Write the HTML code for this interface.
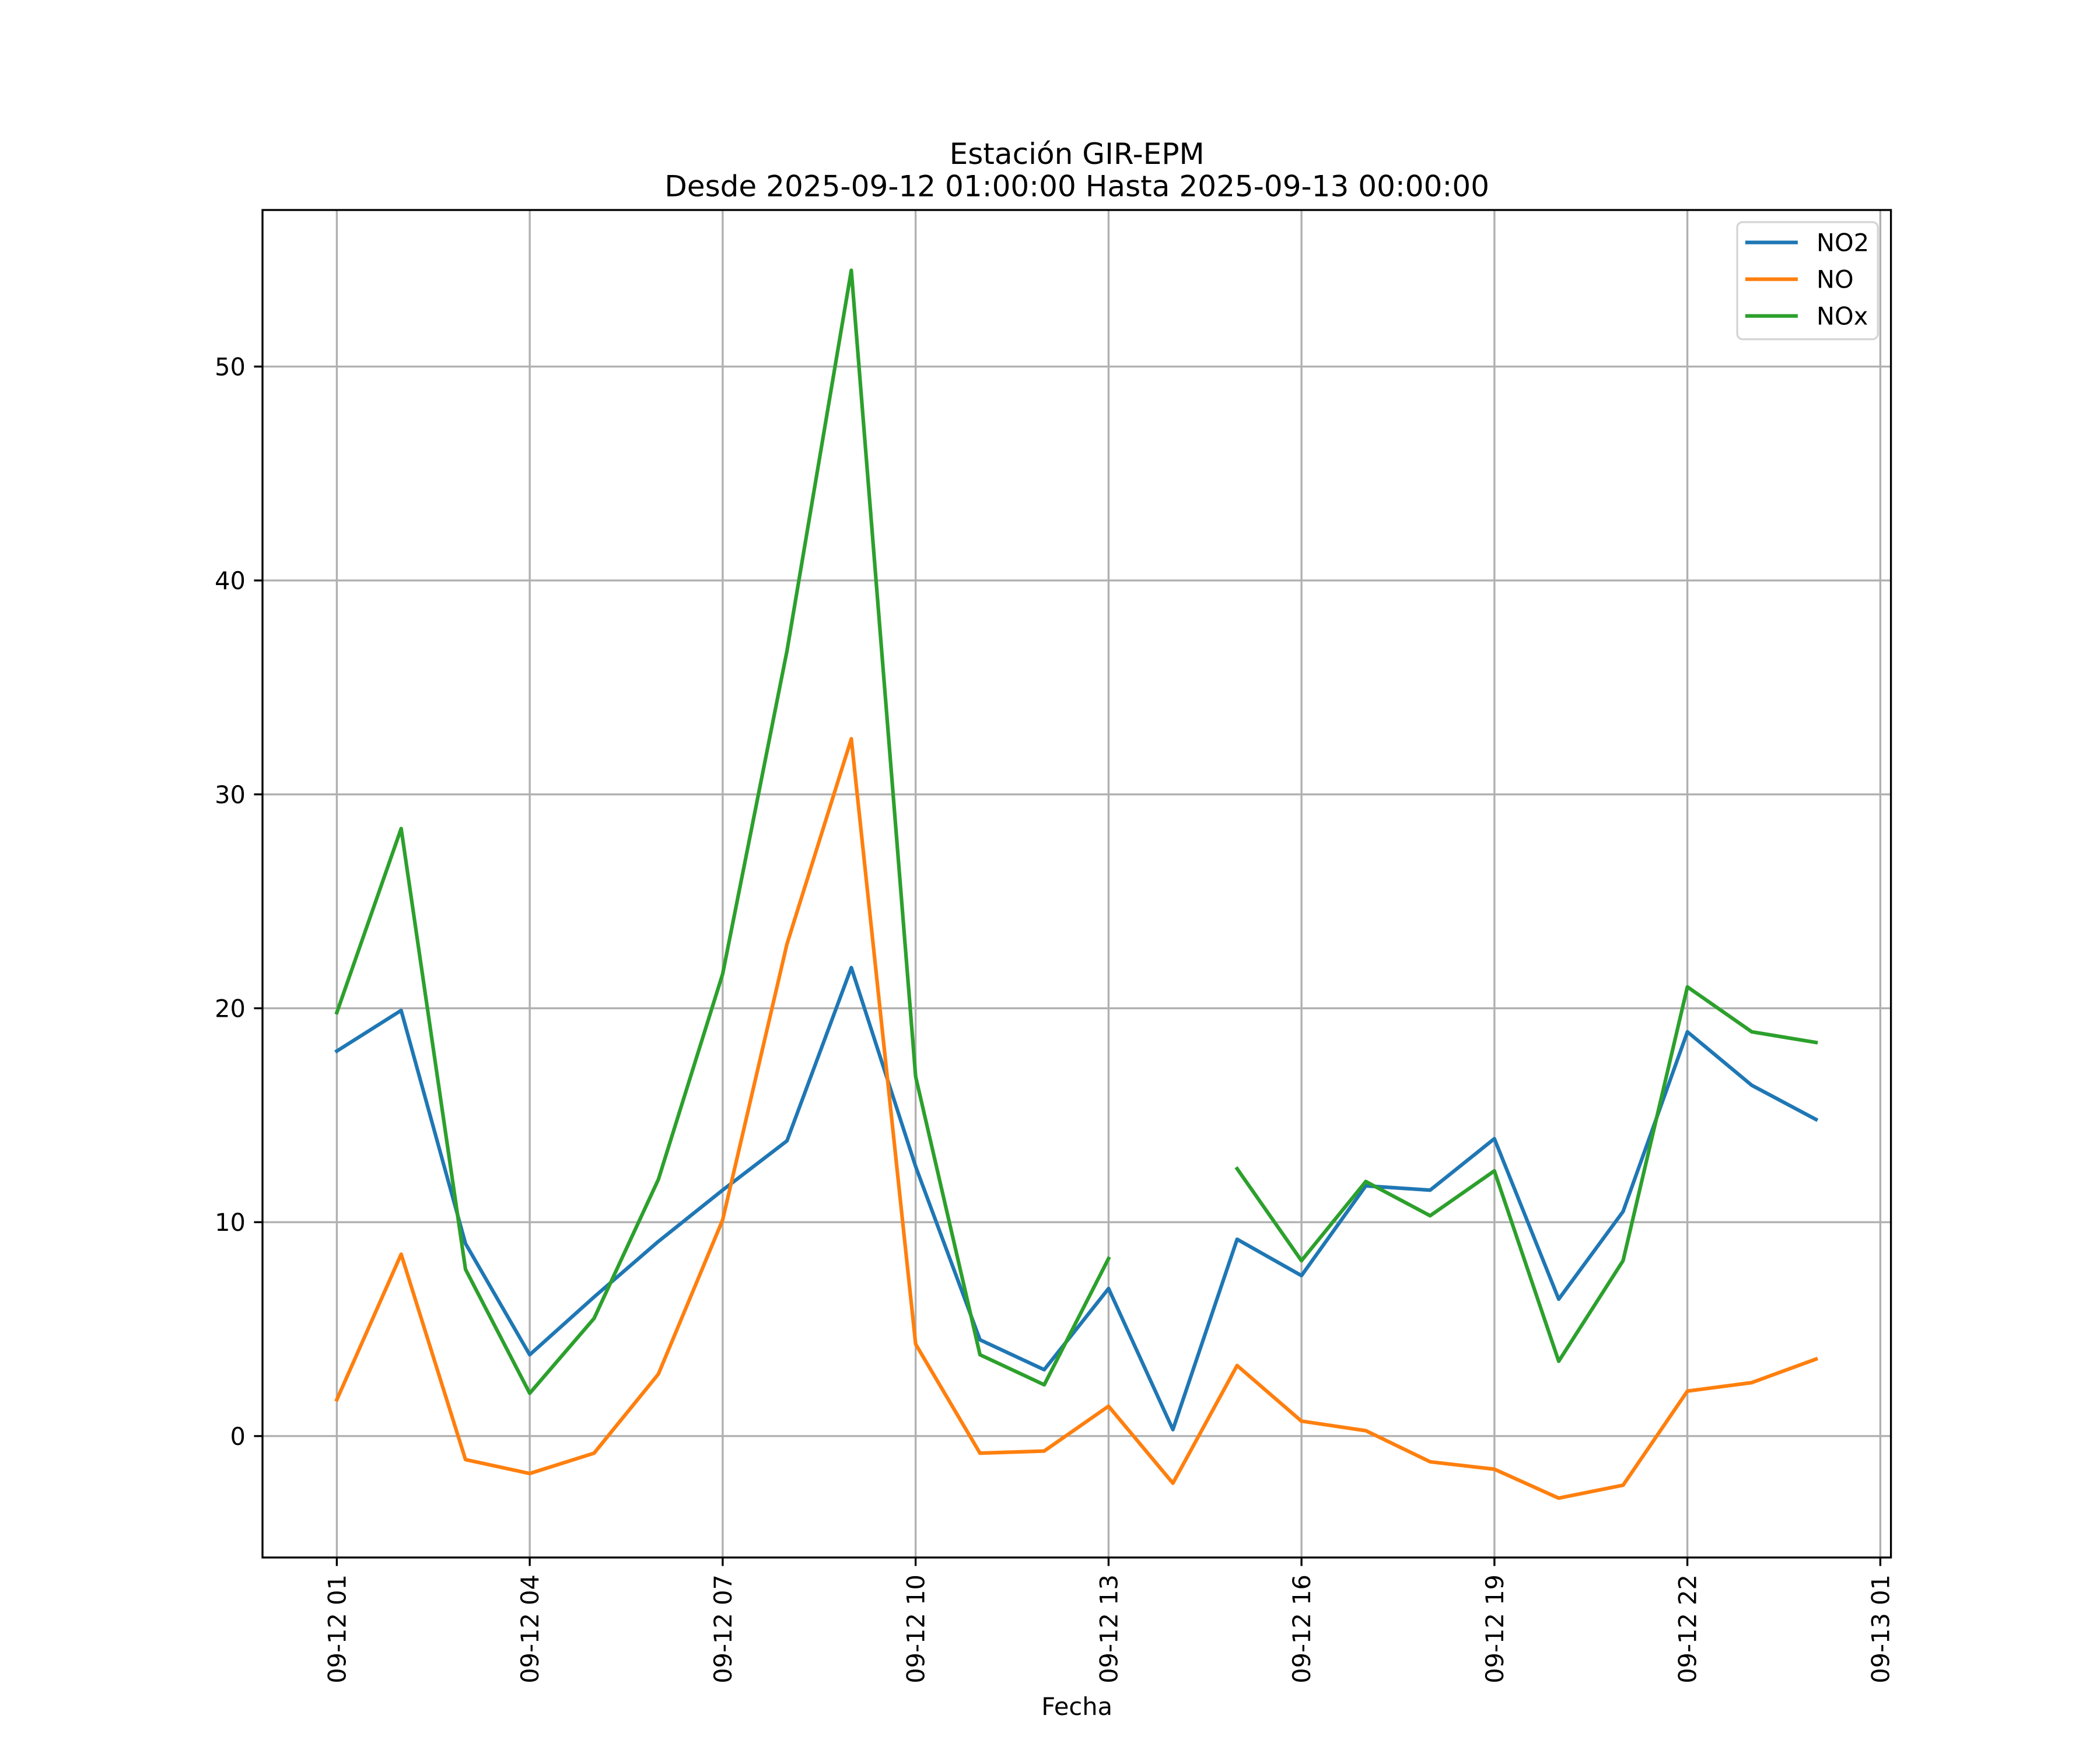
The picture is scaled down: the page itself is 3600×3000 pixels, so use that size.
<!DOCTYPE html>
<html><head><meta charset="utf-8">
<style>
html,body{margin:0;padding:0;background:#fff;}
svg{display:block;font-family:"DejaVu Sans","Liberation Sans",sans-serif;}
</style></head>
<body>
<svg id="chart" width="3600" height="3000" viewBox="0 0 1560 1300" xmlns="http://www.w3.org/2000/svg">
<rect x="0" y="0" width="1560" height="1300" fill="#fff"/>
<g id="grid"></g>
<g id="series"></g>
<rect x="195" y="156" width="1209.7" height="1001" fill="none" stroke="#000" stroke-width="1.45"/>
<g id="ticks"></g>
<text x="800" y="121.8" font-size="21.7" text-anchor="middle">Estación GIR-EPM</text>
<text x="800" y="145.9" font-size="21.7" text-anchor="middle">Desde 2025-09-12 01:00:00 Hasta 2025-09-13 00:00:00</text>
<text x="800" y="1274" font-size="18" text-anchor="middle">Fecha</text>
<g id="legend">
<rect x="1290.5" y="165" width="104.5" height="87" rx="4" fill="#fff" fill-opacity="0.8" stroke="#d5d5d5" stroke-width="1.45"/>
</g>
</svg>
<script>
const hours=[1,2,3,4,5,6,7,8,9,10,11,12,13,14,15,16,17,18,19,20,21,22,23,24];
const no2=[18.0,19.9,9.0,3.8,6.5,9.1,11.5,13.8,21.9,12.6,4.5,3.1,6.9,0.3,9.2,7.5,11.7,11.5,13.9,6.4,10.5,18.9,16.4,14.8];
const no=[1.7,8.5,-1.1,-1.75,-0.8,2.9,10.1,23.0,32.6,4.3,-0.8,-0.7,1.4,-2.2,3.3,0.7,0.25,-1.2,-1.55,-2.9,-2.3,2.1,2.5,3.6];
const nox=[19.8,28.4,7.8,2.0,5.5,12.0,21.6,36.7,54.5,16.8,3.8,2.4,8.3,null,12.5,8.2,11.9,10.3,12.4,3.5,8.2,21.0,18.9,18.4];
const yTicks=[0,10,20,30,40,50];
const xTickHours=[1,4,7,10,13,16,19,22,25];
const xTickLabels=["09-12 01","09-12 04","09-12 07","09-12 10","09-12 13","09-12 16","09-12 19","09-12 22","09-13 01"];
const seriesNames=["NO2","NO","NOx"];
const NS="http://www.w3.org/2000/svg";
const L=195,R=1404.7,T=156,B=1157;
function xs(h){return 250.2+(h-1)*47.775;}
function ys(v){return 1066.8-v*15.89;}
function mk(tag,attrs,parent){const e=document.createElementNS(NS,tag);for(const k in attrs)e.setAttribute(k,attrs[k]);parent.appendChild(e);return e;}
const grid=document.getElementById('grid'),ticks=document.getElementById('ticks'),sg=document.getElementById('series'),lg=document.getElementById('legend');
yTicks.forEach(v=>{
  const y=ys(v);
  const gl=mk('line',{x1:L,x2:R,y1:y,y2:y,stroke:'#b0b0b0','stroke-width':1.45},grid);
  
  
  const tk=mk('line',{x1:L-6.3,x2:L,y1:y,y2:y,stroke:'#000','stroke-width':1.45},ticks);
  
  
  const t=mk('text',{x:L-12.6,y:y+6.5,'font-size':18,'text-anchor':'end'},ticks);
  t.textContent=v;
  
  
});
xTickHours.forEach((h,i)=>{
  const x=xs(h);
  const gl=mk('line',{x1:x,x2:x,y1:T,y2:B,stroke:'#b0b0b0','stroke-width':1.45},grid);
  
  
  const tk=mk('line',{x1:x,x2:x,y1:B,y2:B+6.3,stroke:'#000','stroke-width':1.45},ticks);
  
  
  const t=mk('text',{x:0,y:0,'font-size':18,'text-anchor':'end',transform:`translate(${x+6.5},${B+12.6}) rotate(-90)`},ticks);
  t.textContent=xTickLabels[i];
  
  
});
const colors=['#1f77b4','#ff7f0e','#2ca02c'];
[no2,no,nox].forEach((vals,si)=>{
  let d='',pen=false;
  vals.forEach((v,i)=>{
    if(v===null){pen=false;return;}
    d+=(pen?'L':'M')+xs(hours[i]).toFixed(1)+','+ys(v).toFixed(1);
    pen=true;
  });
  const p=mk('path',{d:d,fill:'none',stroke:colors[si],'stroke-width':2.7,'stroke-linejoin':'round','stroke-linecap':'square'},sg);
  
  
  const y=180.1+si*27.3;
  const ll=mk('line',{x1:1296.5,x2:1335.5,y1:y,y2:y,stroke:colors[si],'stroke-width':2.7},lg);
  
  
  const lt=mk('text',{x:1349.4,y:y+6.5,'font-size':18},lg);
  lt.textContent=seriesNames[si];
  
  
});
</script>
</body></html>
